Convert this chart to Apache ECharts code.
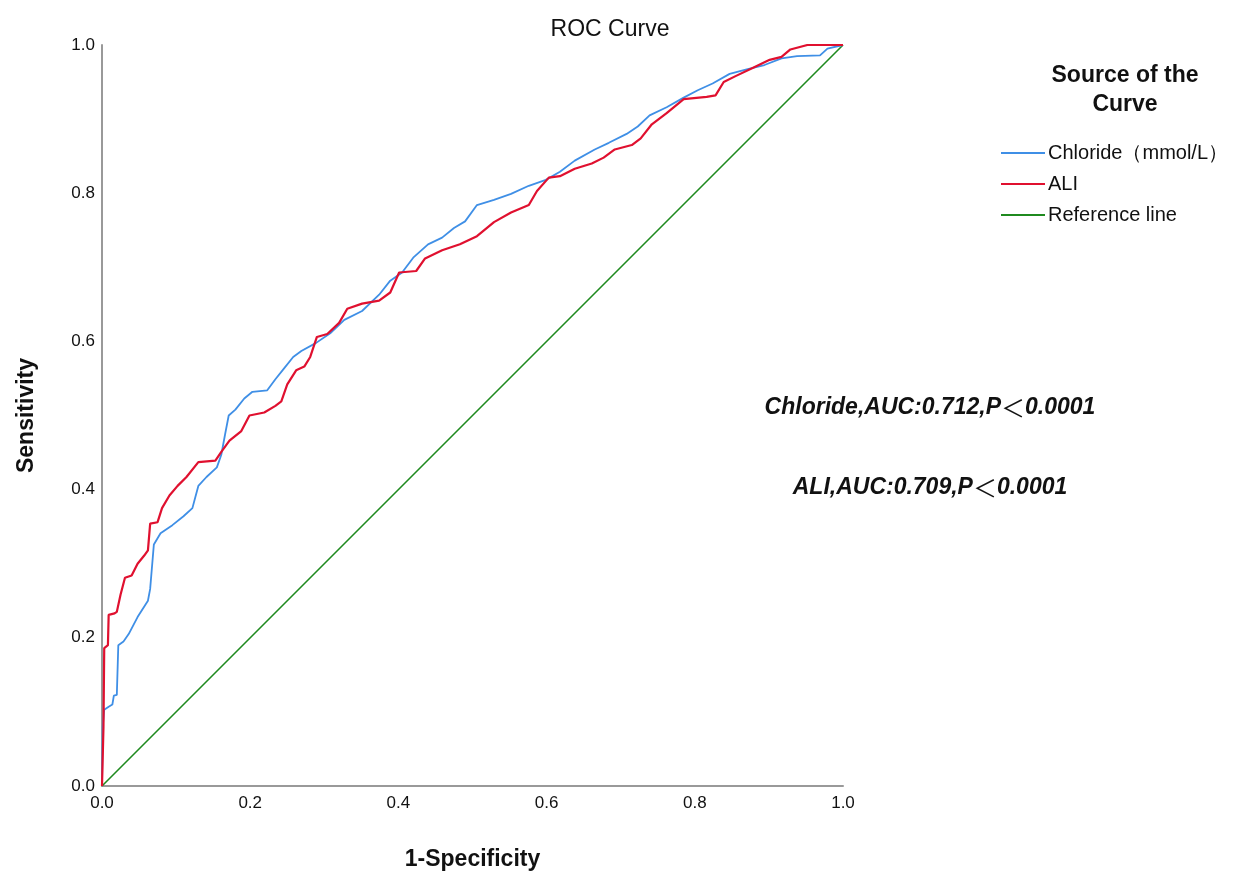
<!DOCTYPE html>
<html><head><meta charset="utf-8">
<script src="https://cdn.jsdelivr.net/npm/echarts@6/dist/echarts.min.js"></script>
<style>html,body{margin:0;padding:0;background:#fff}#c{width:1255px;height:876px}</style>
</head><body><div id="c"></div>
<script>
const tickLabels = ['0.0','0.2','0.4','0.6','0.8','1.0'];
const chlorideFpr = [0,0.001,0.003,0.009,0.014,0.016,0.02,0.022,0.029,0.036,0.048,0.062,0.065,0.07,0.079,0.095,0.110,0.122,0.126,0.130,0.141,0.155,0.161,0.166,0.171,0.180,0.192,0.203,0.223,0.234,0.246,0.258,0.269,0.289,0.308,0.327,0.351,0.374,0.389,0.405,0.420,0.440,0.459,0.475,0.490,0.506,0.529,0.552,0.576,0.599,0.618,0.638,0.665,0.684,0.708,0.723,0.739,0.762,0.785,0.804,0.824,0.847,0.870,0.894,0.917,0.938,0.969,0.979,1];
const chlorideTpr = [0,0.08,0.103,0.107,0.110,0.122,0.123,0.19,0.195,0.205,0.228,0.25,0.266,0.326,0.341,0.352,0.364,0.375,0.39,0.405,0.417,0.43,0.447,0.474,0.5,0.508,0.523,0.532,0.534,0.549,0.564,0.579,0.587,0.598,0.611,0.629,0.641,0.663,0.682,0.693,0.713,0.731,0.74,0.753,0.762,0.784,0.791,0.799,0.81,0.818,0.829,0.844,0.859,0.868,0.88,0.89,0.905,0.916,0.929,0.939,0.948,0.961,0.967,0.973,0.982,0.985,0.986,0.995,1];
const aliFpr = [0,0.002,0.003,0.008,0.009,0.017,0.02,0.025,0.031,0.040,0.048,0.057,0.062,0.065,0.075,0.081,0.091,0.102,0.114,0.130,0.153,0.161,0.172,0.188,0.199,0.219,0.234,0.242,0.25,0.262,0.273,0.281,0.290,0.304,0.32,0.331,0.351,0.374,0.389,0.401,0.424,0.436,0.459,0.483,0.506,0.529,0.552,0.576,0.587,0.603,0.618,0.638,0.661,0.677,0.692,0.715,0.727,0.742,0.762,0.785,0.816,0.828,0.839,0.855,0.878,0.901,0.917,0.929,0.952,1];
const aliTpr = [0,0.08,0.186,0.19,0.231,0.233,0.235,0.258,0.281,0.284,0.300,0.311,0.318,0.354,0.356,0.375,0.392,0.405,0.417,0.437,0.439,0.451,0.466,0.479,0.5,0.504,0.513,0.519,0.542,0.561,0.566,0.579,0.606,0.61,0.625,0.644,0.651,0.655,0.666,0.693,0.695,0.712,0.723,0.731,0.742,0.761,0.774,0.784,0.803,0.821,0.823,0.833,0.84,0.848,0.859,0.865,0.874,0.893,0.908,0.927,0.93,0.932,0.950,0.958,0.969,0.98,0.984,0.994,1,1];
const refX = [0,1];
const refY = [0,1];
const seriesNames = ['Chloride（mmol/L）','ALI','Reference line'];
const annotations = [['Chloride,AUC:0.712,P','0.0001'],['ALI,AUC:0.709,P','0.0001']];

const zip = (a,b)=>a.map((v,i)=>[v,b[i]]);
const font = 'Liberation Sans, Arial, sans-serif';
const annStyle = {fontFamily:font,fontSize:23,fontWeight:'bold',fontStyle:'italic',fill:'#111'};
const annRich = {lt:{fontFamily:'Noto Sans CJK SC',fontSize:24,fontWeight:'normal',fontStyle:'normal',fill:'#111'}};
const annText = a => a[0] + '{lt|＜}' + a[1];
const chart = echarts.init(document.getElementById('c'));
chart.setOption({
  backgroundColor:'#fff',
  animation:false,
  title:{text:'ROC Curve',left:605,top:13,textAlign:'center',
    textStyle:{fontFamily:font,fontSize:23,fontWeight:'normal',color:'#111'}},
  grid:{left:102,right:412,top:45,bottom:89},
  xAxis:{type:'value',min:0,max:1,interval:0.2,name:'1-Specificity',nameLocation:'middle',nameGap:62,
    nameTextStyle:{fontFamily:font,fontSize:23,fontWeight:'bold',color:'#111'},
    axisLine:{lineStyle:{color:'#999',width:2}},axisTick:{show:false},splitLine:{show:false},
    axisLabel:{fontFamily:font,fontSize:17,color:'#111',margin:9,formatter:v=>tickLabels[Math.round(v*5)]}},
  yAxis:{type:'value',min:0,max:1,interval:0.2,name:'Sensitivity',nameLocation:'middle',nameGap:64,
    nameTextStyle:{fontFamily:font,fontSize:23,fontWeight:'bold',color:'#111'},
    axisLine:{show:true,lineStyle:{color:'#999',width:2}},axisTick:{show:false},splitLine:{show:false},
    axisLabel:{fontFamily:font,fontSize:17,color:'#111',margin:7,formatter:v=>tickLabels[Math.round(v*5)]}},
  legend:{orient:'vertical',left:996,top:138,itemWidth:44,itemHeight:2,itemGap:11,
    data:seriesNames.map(n=>({name:n,icon:'rect'})),
    textStyle:{fontFamily:font,fontSize:20,color:'#111',padding:[0,0,0,-2]}},
  graphic:[
    {type:'text',x:1125,y:61,style:{text:'Source of the\nCurve',fontFamily:font,fontSize:23,fontWeight:'bold',fill:'#111',align:'center',lineHeight:29}},
    {type:'text',x:930,y:396,style:Object.assign({text:annText(annotations[0]),align:'center',rich:annRich},annStyle)},
    {type:'text',x:930,y:476,style:Object.assign({text:annText(annotations[1]),align:'center',rich:annRich},annStyle)}
  ],
  series:[
    {name:seriesNames[2],type:'line',data:zip(refX,refY),symbol:'none',lineStyle:{color:'#1f8a1f',width:1.6},itemStyle:{color:'#1f8a1f'},z:1},
    {name:seriesNames[0],type:'line',data:zip(chlorideFpr,chlorideTpr),symbol:'none',lineStyle:{color:'#3f8fe6',width:1.8},itemStyle:{color:'#3f8fe6'},z:2},
    {name:seriesNames[1],type:'line',data:zip(aliFpr,aliTpr),symbol:'none',lineStyle:{color:'#e0102f',width:2.2},itemStyle:{color:'#e0102f'},z:3}
  ]
});
</script></body></html>
